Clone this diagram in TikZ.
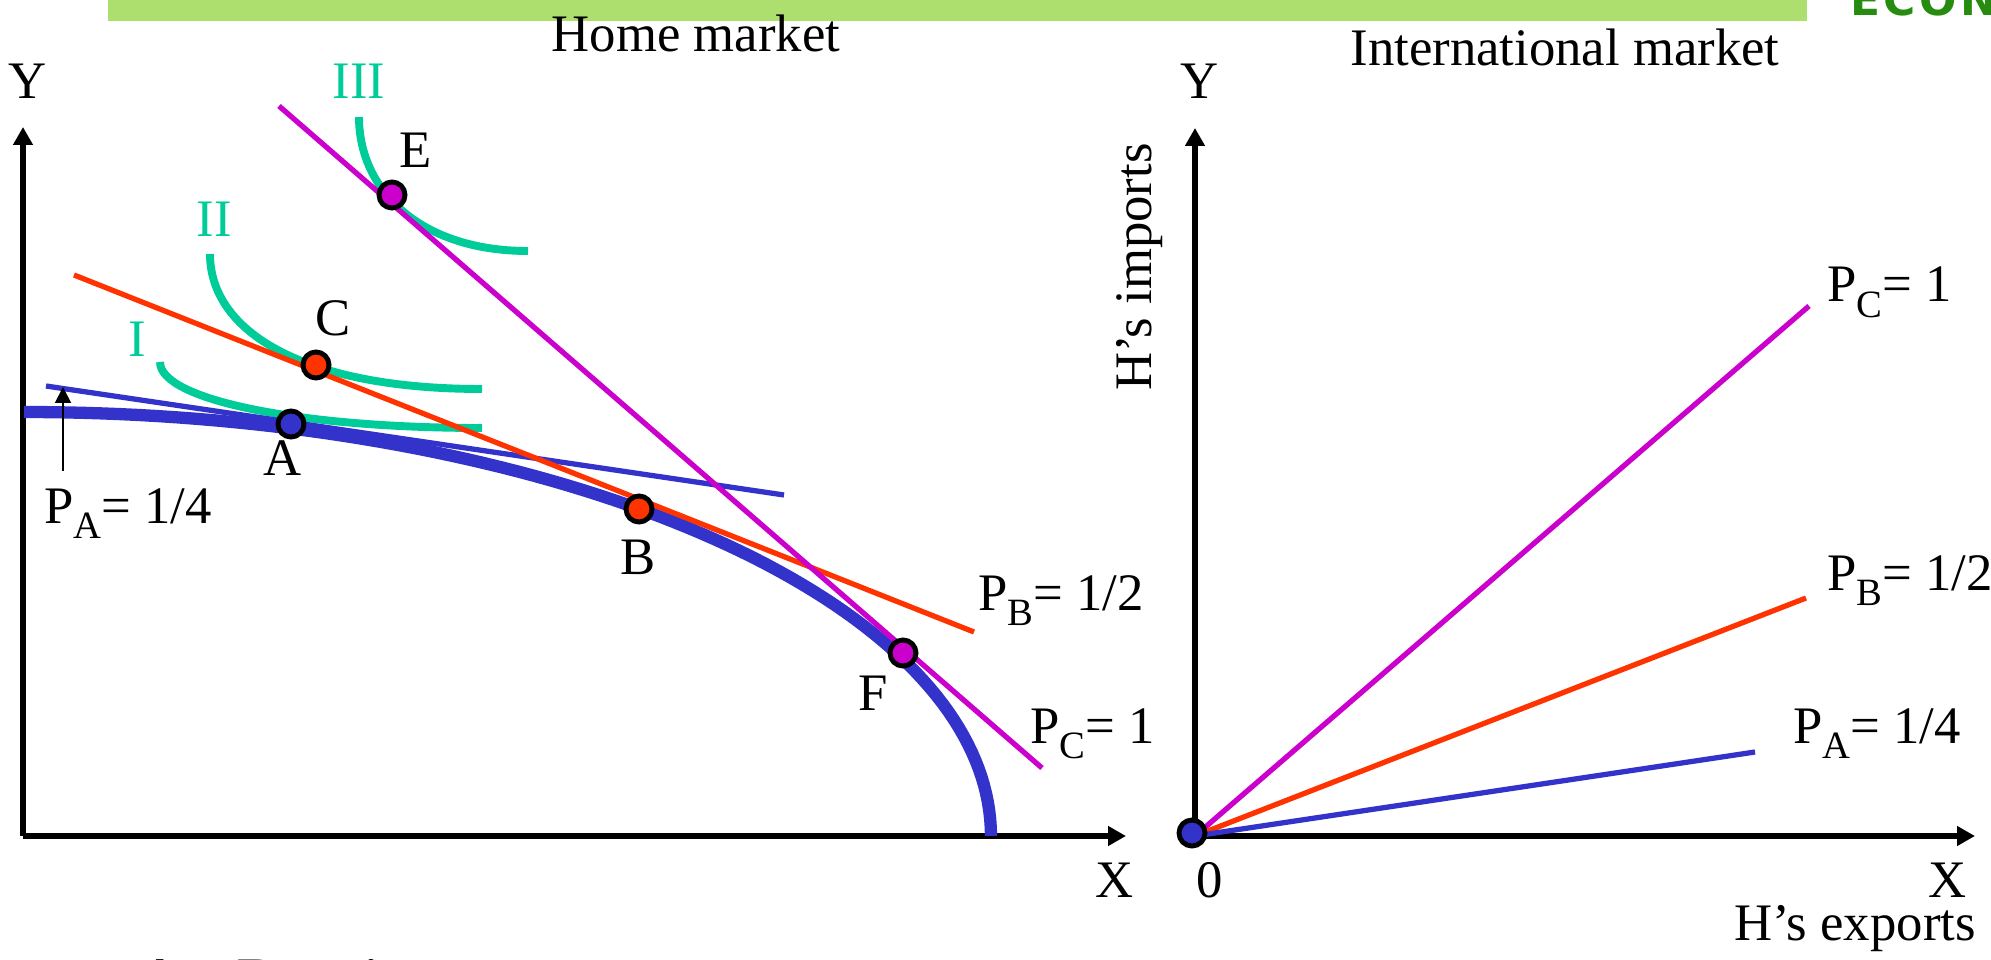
\documentclass[tikz,border=0pt]{standalone}
\usepackage{fontspec}
\setmainfont{Liberation Serif}
\newfontfamily\econfont{DejaVu Sans}
\usetikzlibrary{arrows.meta}
\definecolor{ppfblue}{RGB}{51,51,204}
\definecolor{bred}{RGB}{255,51,0}
\definecolor{bmag}{RGB}{204,0,204}
\definecolor{icgreen}{RGB}{0,204,153}
\definecolor{barlime}{RGB}{173,223,111}
\definecolor{econgreen}{RGB}{38,140,16}
\newcommand{\pricelbl}[2]{P\raisebox{-9pt}{\fontsize{22}{24}\selectfont #1}= #2}

\begin{document}
\begin{tikzpicture}[
    x=0.2mm, y=-0.2mm, font=\fontsize{30}{36}\selectfont,
    ax/.style={line width=3.4pt, -{Triangle[length=3.6mm, width=3.8mm]}},
    ppf/.style={draw=ppfblue, line width=7pt},
    ic/.style={draw=icgreen, line width=4.5pt},
    budA/.style={draw=ppfblue, line width=3pt},
    budB/.style={draw=bred, line width=3pt},
    budC/.style={draw=bmag, line width=3pt},
    pt/.style={circle, draw=black, line width=2.8pt, minimum size=5.2mm, inner sep=0pt},
    iclbl/.style={text=icgreen},
    plbl/.style={anchor=base west, inner sep=0pt}
  ]
  \useasboundingbox (0,0) rectangle (1991,960);
  \clip (0,0) rectangle (1991,960);

  % header
  \fill[barlime] (108,0) rectangle (1807,21);
  \node[anchor=base west, inner sep=0pt, text=econgreen,
        font=\econfont\bfseries\fontsize{25}{28}\selectfont] (econ) at (1850,16) {E\kern2pt C\kern2pt O\kern2pt N};
  \node (home) at (696,33) {Home market};
  \node (intl) at (1565,47) {International market};

  % home market axes
  \coordinate (o1) at (23,836);
  \coordinate (y1) at (23,127);
  \coordinate (x1) at (1126,836);
  \draw[ax] (o1) -- (y1);
  \draw[ax] (o1) -- (x1);
  \node (ly1) at (28,81) {Y};
  \node (lx1) at (1115,880) {X};

  % production possibility frontier
  \draw[ppf] plot[variable=\t, domain=0:90, samples=80]
        ({24+967*cos(\t)}, {836-424*sin(\t)});

  % indifference curves
  \draw[ic] (160,362) .. controls (160,400) and (300,428) .. (482,428);
  \draw[ic] (210,254) .. controls (210,330) and (300,389) .. (482,389);
  \draw[ic] (359,117) .. controls (359,190) and (420,251) .. (528,251);
  \node[iclbl] (lI) at (137,339) {I};
  \node[iclbl] (lII) at (214,219) {II};
  \node[iclbl] (lIII) at (359,81) {III};

  % price lines
  \coordinate (bA1) at (46,386);
  \coordinate (bA2) at (784,495);
  \coordinate (bB1) at (74,275);
  \coordinate (bB2) at (974,632);
  \coordinate (bC1) at (279,106);
  \coordinate (bC2) at (1042,768);
  \draw[budA] (bA1) -- (bA2);
  \draw[budB] (bB1) -- (bB2);
  \draw[budC] (bC1) -- (bC2);

  \coordinate (tail) at (63,471);
  \coordinate (tip) at (63,387);
  \draw[line width=1.1pt, -{Triangle[length=3.2mm, width=3.2mm]}] (tail) -- (tip);

  \node[plbl] (pA1) at (44,523) {\pricelbl{A}{1/4}};
  \node[plbl] (pB1) at (978,610) {\pricelbl{B}{1/2}};
  \node[plbl] (pC1) at (1030,743) {\pricelbl{C}{1}};

  % points
  \node[pt, fill=ppfblue] (A) at (291,424) {};
  \node[pt, fill=bred] (C) at (316,365) {};
  \node[pt, fill=bred] (B) at (639,509) {};
  \node[pt, fill=bmag] (E) at (392,195) {};
  \node[pt, fill=bmag] (F) at (903,653) {};
  \node (lA) at (283,458) {A};
  \node (lB) at (638,557) {B};
  \node (lC) at (333,318) {C};
  \node (lE) at (416,150) {E};
  \node (lF) at (873,693) {F};

  % international market
  \coordinate (o2) at (1195,836);
  \coordinate (y2) at (1195,128);
  \coordinate (x2) at (1975,836);
  \draw[ax] (o2) -- (y2);
  \draw[ax] (o2) -- (x2);
  \node (ly2) at (1200,81) {Y};
  \node (lx2) at (1948,880) {X};
  \node (l0) at (1210,880) {0};
  \node[rotate=90] (imp) at (1140,267) {H’s imports};
  \node[anchor=east] (exp) at (1982,929) {H’s exports};

  \coordinate (tA) at (1755,752);
  \coordinate (tB) at (1806,598);
  \coordinate (tC) at (1809,306);
  \draw[budC] (o2) -- (tC);
  \draw[budB] (o2) -- (tB);
  \draw[budA] (o2) -- (tA);
  \node[pt, fill=ppfblue] (O) at (1192,833) {};

  \node[plbl] (pA2) at (1793,743) {\pricelbl{A}{1/4}};
  \node[plbl] (pB2) at (1827,590) {\pricelbl{B}{1/2}};
  \node[plbl] (pC2) at (1827,302) {\pricelbl{C}{1}};

  % cut-off line of the slide text
  \node[anchor=base west, inner sep=0pt, font=\fontsize{43}{50}\selectfont]
        (note) at (133,1009) {As P\textsubscript{A} rises};
\end{tikzpicture}
\end{document}
